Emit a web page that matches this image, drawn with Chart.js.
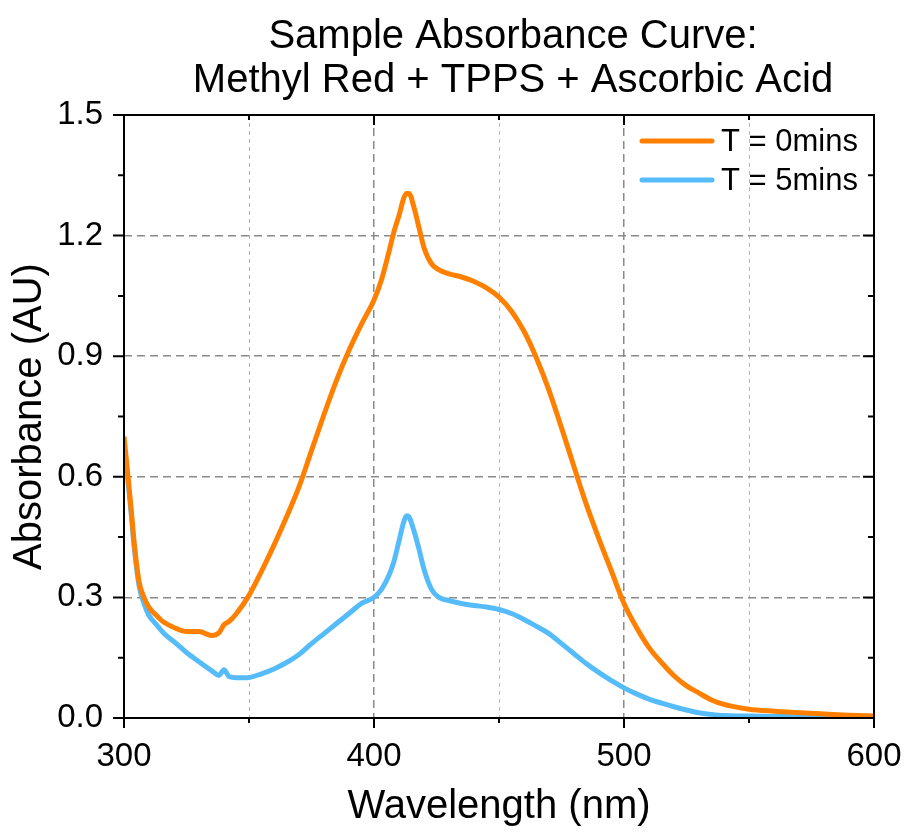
<!DOCTYPE html>
<html>
<head>
<meta charset="utf-8">
<script src="https://cdn.jsdelivr.net/npm/chart.js@4.4.1/dist/chart.umd.min.js"></script>
<style>
  html, body { margin: 0; padding: 0; background: #fff; }
  canvas { display: block; }
</style>
</head>
<body>
<canvas id="absChart" width="906" height="832"></canvas>
<script>
// wavelength (nm) and absorbance readings
const wavelengths = [300, 301, 302, 303, 304, 306, 308, 310, 313, 316, 320, 325, 330, 335, 338, 340, 342, 345,
    350, 355, 360, 365, 370, 375, 380, 385, 390, 395, 400, 403, 406, 408, 410, 412, 413, 414,
    416, 418, 420, 423, 426, 430, 435, 440, 445, 450, 455, 460, 465, 470, 475, 480, 485, 490,
    495, 500, 505, 510, 515, 520, 525, 530, 535, 540, 545, 550, 560, 570, 580, 590, 600];

const absT0 = [0.70, 0.64, 0.575, 0.51, 0.44, 0.34, 0.30, 0.275, 0.255, 0.238, 0.225, 0.215, 0.215, 0.205, 0.212, 0.232, 0.24, 0.26,
    0.305, 0.365, 0.43, 0.5, 0.575, 0.665, 0.755, 0.84, 0.915, 0.98, 1.04, 1.09, 1.16, 1.21, 1.25, 1.295, 1.305, 1.305,
    1.27, 1.22, 1.17, 1.13, 1.115, 1.105, 1.097, 1.086, 1.07, 1.047, 1.012, 0.962, 0.895, 0.815, 0.722, 0.625, 0.53, 0.445,
    0.365, 0.285, 0.225, 0.175, 0.138, 0.105, 0.08, 0.062, 0.045, 0.034, 0.027, 0.022, 0.017, 0.013, 0.01, 0.007, 0.005];

const absT5 = [0.65, 0.62, 0.565, 0.50, 0.43, 0.33, 0.285, 0.255, 0.232, 0.21, 0.19, 0.163, 0.14, 0.118, 0.106, 0.12, 0.103, 0.10,
    0.101, 0.11, 0.122, 0.138, 0.158, 0.185, 0.21, 0.235, 0.26, 0.285, 0.30, 0.32, 0.355, 0.39, 0.44, 0.49, 0.503, 0.50,
    0.465, 0.42, 0.37, 0.32, 0.30, 0.292, 0.285, 0.28, 0.276, 0.27, 0.26, 0.245, 0.228, 0.21, 0.185, 0.16, 0.135, 0.113,
    0.093, 0.075, 0.06, 0.047, 0.037, 0.028, 0.02, 0.013, 0.009, 0.006, 0.005, 0.005, 0.004, 0.004, 0.003, 0.003, 0.003];

const seriesLabels = ['T = 0mins', 'T = 5mins'];
const titleLines = ['Sample Absorbance Curve:', 'Methyl Red + TPPS + Ascorbic Acid'];

const FONT = '"Liberation Sans", Arial, sans-serif';

function toPoints(ys) {
    return wavelengths.map((x, i) => ({ x: x, y: ys[i] }));
}

// frame, tick marks, title and legend drawn on top of the chart
const decorations = {
    id: 'decorations',
    afterDraw(chart) {
        const { ctx, chartArea: a, scales } = chart;
        const xs = scales.x, ys = scales.y;
        ctx.save();
        ctx.strokeStyle = '#000';
        ctx.lineWidth = 2;
        ctx.strokeRect(a.left, a.top, a.right - a.left, a.bottom - a.top);

        xs.ticks.forEach(t => {
            const px = xs.getPixelForValue(t.value);
            const len = t.value % 100 === 0 ? 10 : 5;
            ctx.beginPath();
            ctx.moveTo(px, a.bottom); ctx.lineTo(px, a.bottom + len);
            ctx.moveTo(px, a.top); ctx.lineTo(px, a.top + len);
            ctx.stroke();
        });
        ys.ticks.forEach((t, i) => {
            const py = ys.getPixelForValue(t.value);
            const len = i % 2 === 0 ? 11 : 6;
            ctx.beginPath();
            ctx.moveTo(a.left, py); ctx.lineTo(a.left - len, py);
            ctx.moveTo(a.right, py); ctx.lineTo(a.right - len, py);
            ctx.stroke();
        });

        // title
        ctx.fillStyle = '#000';
        ctx.font = '40px ' + FONT;
        ctx.textAlign = 'center';
        ctx.textBaseline = 'alphabetic';
        ctx.fillText(titleLines[0], 513, 48);
        ctx.fillText(titleLines[1], 513, 92);

        // legend
        ctx.font = '31px ' + FONT;
        ctx.textAlign = 'left';
        ctx.textBaseline = 'middle';
        chart.data.datasets.forEach((ds, i) => {
            const y = 141 + i * 39;
            ctx.strokeStyle = ds.borderColor;
            ctx.lineWidth = 5;
            ctx.lineCap = 'round';
            ctx.beginPath();
            ctx.moveTo(642, y); ctx.lineTo(712, y);
            ctx.stroke();
            ctx.fillText(ds.label, 721, y + 1);
        });
        ctx.restore();
    }
};

const chart = new Chart(document.getElementById('absChart'), {
    type: 'line',
    data: {
        datasets: [
            {
                label: seriesLabels[0],
                data: toPoints(absT0),
                borderColor: '#ff8000',
                borderWidth: 5,
                pointRadius: 0,
                cubicInterpolationMode: 'monotone',
            },
            {
                label: seriesLabels[1],
                data: toPoints(absT5),
                borderColor: '#56bbf9',
                borderWidth: 5,
                pointRadius: 0,
                cubicInterpolationMode: 'monotone',
            },
        ],
    },
    options: {
        responsive: false,
        animation: false,
        layout: { padding: { top: 115, right: 32, left: 0, bottom: 0 } },
        plugins: {
            legend: { display: false },
            tooltip: { enabled: false },
        },
        scales: {
            x: {
                type: 'linear',
                min: 300,
                max: 600,
                afterFit: s => { s.height = 114; s.paddingLeft = 0; s.paddingRight = 0; },
                ticks: {
                    stepSize: 50,
                    autoSkip: false,
                    maxRotation: 0,
                    padding: 19,
                    color: '#000',
                    font: { family: FONT, size: 33 },
                    callback: v => (v % 100 === 0 ? String(v) : ''),
                },
                grid: {
                    drawTicks: false,
                    color: c => {
                        const v = c.tick && c.tick.value;
                        if (v === 300 || v === 600) return 'rgba(0,0,0,0)';
                        return v % 100 === 0 ? '#8a8a8a' : '#b8b8b8';
                    },
                    lineWidth: c => (c.tick && c.tick.value % 100 === 0 ? 1.5 : 1),
                },
                border: {
                    display: false,
                    dash: c => (c.tick && c.tick.value % 100 === 0 ? [8, 5] : [4, 4]),
                },
                title: {
                    display: true,
                    text: 'Wavelength (nm)',
                    color: '#000',
                    font: { family: FONT, size: 40 },
                    padding: { top: 0, bottom: 1 },
                },
            },
            y: {
                min: 0,
                max: 1.5,
                afterFit: s => { s.width = 124; s.paddingTop = 0; s.paddingBottom = 0; },
                ticks: {
                    stepSize: 0.15,
                    autoSkip: false,
                    padding: 21,
                    color: '#000',
                    font: { family: FONT, size: 33 },
                    callback: (v, i) => (i % 2 === 0 ? Number(v).toFixed(1) : ''),
                },
                grid: {
                    drawTicks: false,
                    color: c => {
                        const i = c.index;
                        if (i % 2 !== 0 || i === 0 || i === 10) return 'rgba(0,0,0,0)';
                        return '#8a8a8a';
                    },
                    lineWidth: 1.5,
                },
                border: { display: false, dash: [8, 5] },
                title: {
                    display: true,
                    text: 'Absorbance (AU)',
                    color: '#000',
                    font: { family: FONT, size: 40 },
                    padding: { top: 6, bottom: 0 },
                },
            },
        },
    },
    plugins: [decorations],
});
</script>
</body>
</html>
